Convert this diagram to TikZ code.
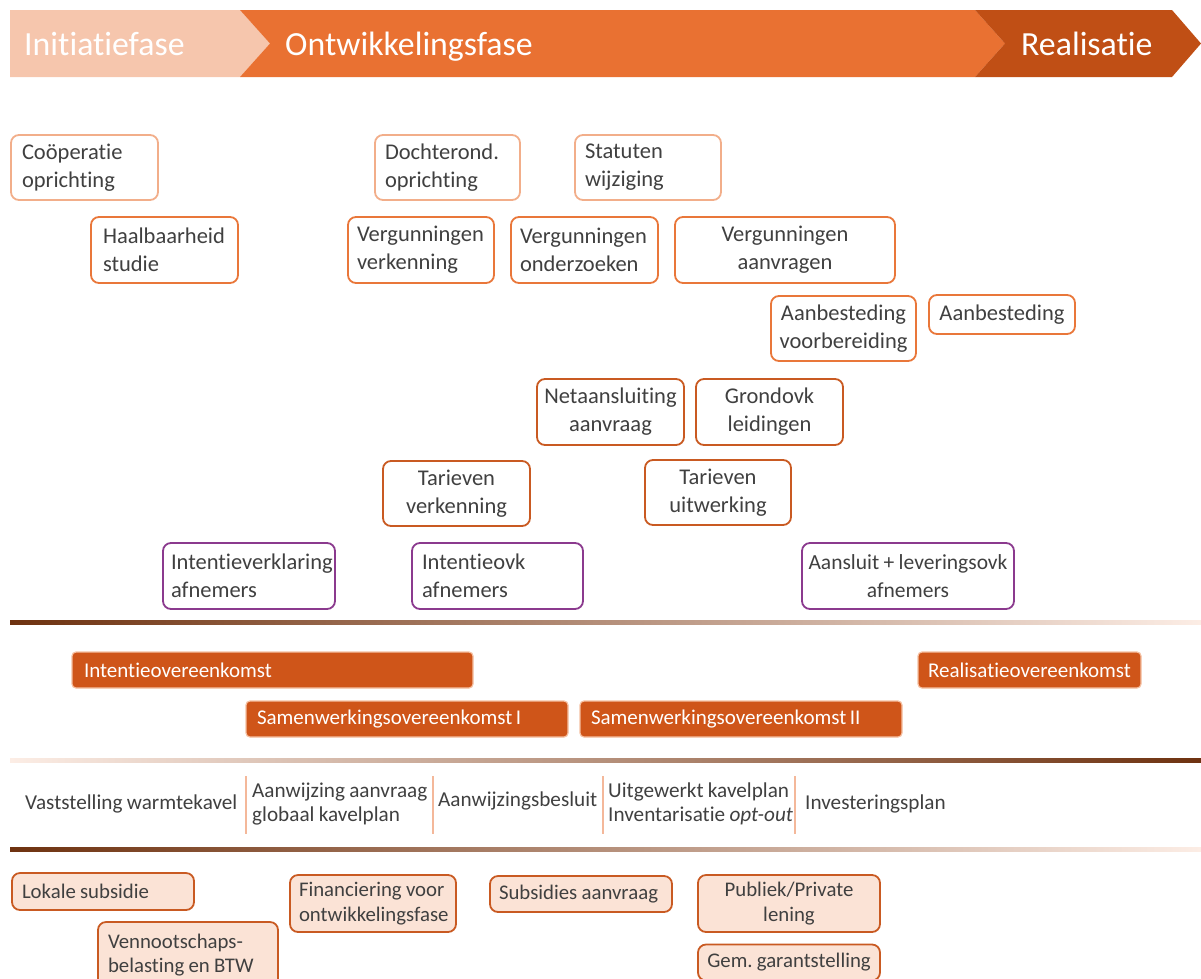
\documentclass[tikz,border=0pt]{standalone}
\usepackage{fontspec}
\setmainfont{Carlito}[Ligatures=NoCommon, WordSpace=0.9]
\definecolor{pale}{HTML}{F6C6AD}
\definecolor{mid}{HTML}{E97132}
\definecolor{dark}{HTML}{C04F15}
\definecolor{bpale}{HTML}{F2AE8A}
\definecolor{bmid}{HTML}{E9773A}
\definecolor{bdark}{HTML}{C95A22}
\definecolor{purp}{HTML}{8B3A8E}
\definecolor{barfill}{HTML}{CF5519}
\definecolor{barb}{HTML}{F5C0A2}
\definecolor{fillp}{HTML}{FBE3D6}
\definecolor{txt}{HTML}{404040}
\definecolor{sepc}{HTML}{F4B89A}
\definecolor{brownc}{HTML}{6E3210}
\definecolor{linemid}{HTML}{D0652A}
\definecolor{fadec}{HTML}{FCEDE5}
\newcommand\hdrfont{\fontsize{33.8}{38}\selectfont}
\newcommand\boxfont{\fontsize{22.5}{27.8}\selectfont\hyphenpenalty=10000\exhyphenpenalty=10000}
\newcommand\smbfont{\fontsize{21.5}{27.8}\selectfont\hyphenpenalty=10000\exhyphenpenalty=10000}
\newcommand\finfont{\fontsize{20.8}{24.5}\selectfont\hyphenpenalty=10000\exhyphenpenalty=10000}
\newcommand\barfont{\fontsize{21}{24}\selectfont}
\newcommand\rowfont{\fontsize{21.2}{24}\selectfont}
\tikzset{
  hdr/.style={inner sep=0pt, text=white, font=\hdrfont, anchor=base west},
  bx/.style={draw, rounded corners=8pt, line width=1.8pt, fill=white, inner ysep=0pt, font=\boxfont, text=txt},
  bxl/.style={bx, align=flush left},
  bxc/.style={bx, align=flush center},
  cpale/.style={draw=bpale},
  cmid/.style={draw=bmid},
  cdark/.style={draw=bdark},
  cpurp/.style={draw=purp},
  cfin/.style={draw=bdark, fill=fillp, font=\finfont},
  barbox/.style={fill=barfill, draw=barb, line width=1.2pt, rounded corners=4pt, text=white, font=\barfont, align=flush left, inner ysep=0pt},
  rowtxt/.style={inner sep=0pt, anchor=west, font=\rowfont, text=txt, align=left},
  sepline/.style={draw=sepc, line width=1.5pt},
}
\begin{document}
\begin{tikzpicture}[x=1pt,y=-1pt]
\useasboundingbox (0,0) rectangle (1201,978);
\clip (0,0) rectangle (1201,978);
% header chevrons
\fill[pale] (10,10) -- (240,10) -- (270,43.5) -- (240,77) -- (10,77) -- cycle;
\fill[mid] (240,10) -- (975,10) -- (1005,43.5) -- (975,77) -- (240,77) -- (270,43.5) -- cycle;
\fill[dark] (975,10) -- (1172,10) -- (1201,43.5) -- (1172,77) -- (975,77) -- (1005,43.5) -- cycle;
\node[hdr] (h1) at (24,55) {Initiatiefase};
\node[hdr] (h2) at (285,55) {Ontwikkelingsfase};
\node[hdr] (h3) at (1021,55) {Realisatie};

% top boxes
\node[bxl, cpale, inner xsep=11pt, text width=125pt, minimum height=65pt] (coop) at (84.5,167.5) {Coöperatie\\oprichting};
\node[bxl, cpale, inner xsep=10pt, text width=125pt, minimum height=65pt] (doch) at (447.5,167.5) {Dochterond.\\oprichting};
\node[bxl, cpale, inner xsep=10pt, text width=126pt, minimum height=65pt] (stat) at (648,167.5) {Statuten\\wijziging};
\node[bxl, cmid, inner xsep=12pt, text width=123pt, minimum height=66pt] (haal) at (164.5,250) {Haalbaarheid\\studie};
\node[bxl, cmid, inner xsep=9pt, text width=128pt, minimum height=66pt] (vverk) at (421,250) {Vergunningen\\verkenning};
\node[bxl, cmid, inner xsep=9pt, text width=129pt, minimum height=66pt] (vond) at (584.5,250) {Vergunningen\\onderzoeken};
\node[bxc, cmid, inner xsep=10pt, text width=200pt, minimum height=66pt] (vaan) at (785,250) {Vergunningen\\aanvragen};
\node[bxc, cmid, inner xsep=4pt, text width=137pt, minimum height=65pt] (aanbv) at (843.5,328.5) {Aanbesteding\\voorbereiding};
\node[bxc, cmid, inner xsep=4pt, text width=138pt, minimum height=39pt] (aanb) at (1002,314.5) {Aanbesteding};
\node[bxc, cdark, inner xsep=4pt, text width=139pt, minimum height=66pt] (neta) at (610.5,412) {Netaansluiting\\aanvraag};
\node[bxc, cdark, inner xsep=4pt, text width=139pt, minimum height=66pt] (grond) at (769.5,412) {Grondovk\\leidingen};
\node[bxc, cdark, inner xsep=4pt, text width=139pt, minimum height=65pt] (tverk) at (456.5,493.5) {Tarieven\\verkenning};
\node[bxc, cdark, inner xsep=4pt, text width=138pt, minimum height=65pt] (tuitw) at (718,492.5) {Tarieven\\uitwerking};
\node[bxl, cpurp, inner xsep=8pt, text width=156pt, minimum height=66pt] (intv) at (249,576) {Intentieverklaring\\afnemers};
\node[bxl, cpurp, inner xsep=10pt, text width=151pt, minimum height=66pt] (into) at (497.5,576) {Intentieovk\\afnemers};
\node[bxc, cpurp, inner xsep=2pt, text width=208pt, minimum height=66pt, font=\smbfont] (aansl) at (908,576) {Aansluit + leveringsovk\\afnemers};

% line 1
\shade[left color=brownc, middle color=linemid, right color=fadec] (10,620) rectangle (1201,624);

% contract bars
\node[barbox, inner xsep=12pt, text width=377pt, minimum height=36pt] (io) at (272.5,670) {Intentieovereenkomst};
\node[barbox, inner xsep=11pt, text width=300pt, minimum height=36pt] (sw1) at (407,719) {Samenwerkingsovereenkomst\,I};
\node[barbox, inner xsep=11pt, text width=300pt, minimum height=36pt] (sw2) at (741,719) {Samenwerkingsovereenkomst\,II};
\node[barbox, inner xsep=10pt, text width=203pt, minimum height=36pt] (ro) at (1029.5,670) {Realisatieovereenkomst};

% line 2
\shade[left color=fadec, middle color=linemid, right color=brownc] (10,758) rectangle (1201,762);

% row texts
\node[rowtxt] (vast) at (25,804) {Vaststelling warmtekavel};
\path[sepline] (246,776) -- (246,834);
\node[rowtxt] (aanw) at (252,804) {Aanwijzing aanvraag\\globaal kavelplan};
\path[sepline] (433,776) -- (433,834);
\node[rowtxt] (besl) at (438,801) {Aanwijzingsbesluit};
\path[sepline] (603,776) -- (603,834);
\node[rowtxt] (uitg) at (608,804) {Uitgewerkt kavelplan\\Inventarisatie \textit{opt-out}};
\path[sepline] (795,776) -- (795,834);
\node[rowtxt] (inv) at (805,804) {Investeringsplan};

% line 3
\shade[left color=brownc, middle color=linemid, right color=fadec] (10,847) rectangle (1201,851);

% finance boxes
\node[bxl, cfin, inner xsep=10pt, text width=162pt, minimum height=37pt] (lok) at (103,891.5) {Lokale subsidie};
\node[bxl, cfin, inner xsep=10pt, text width=160pt, minimum height=66pt] (venn) at (188,955) {Vennootschaps-\\belasting en BTW};
\node[bxl, cfin, inner xsep=9pt, text width=148pt, minimum height=57pt] (fin) at (373,903.5) {Financiering voor\\ontwikkelingsfase};
\node[bxl, cfin, inner xsep=9pt, text width=164pt, minimum height=36pt] (subs) at (581,894) {Subsidies aanvraag};
\node[bxc, cfin, inner xsep=4pt, text width=174pt, minimum height=57pt] (publ) at (789,903.5) {Publiek/Private\\lening};
\node[bxc, cfin, inner xsep=2pt, text width=178pt, minimum height=36pt] (gem) at (789,962.5) {Gem.\ garantstelling};
\end{tikzpicture}
\end{document}
